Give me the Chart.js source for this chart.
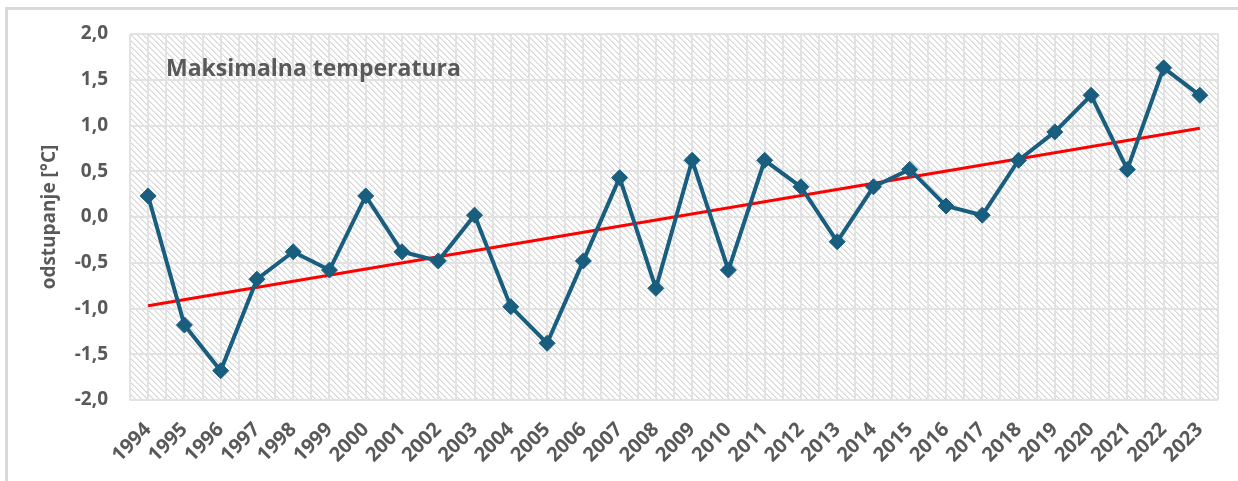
<!DOCTYPE html>
<html>
<head>
<meta charset="utf-8">
<script src="https://cdn.jsdelivr.net/npm/chart.js"></script>
<style>
    body { margin: 0; background: #fff; }
    #wrap { position: relative; width: 1238px; height: 481px; overflow: hidden; }
    #frame {
        position: absolute; left: 5px; top: 7px; width: 1300px; height: 500px;
        border-top: 3px solid #dadada; border-left: 3px solid #dadada;
        pointer-events: none;
    }
</style>
</head>
<body>
<div id="wrap">
    <canvas id="tempChart"></canvas>
    <div id="frame"></div>
</div>

<script>
    // values
    const years = ['1994', '1995', '1996', '1997', '1998', '1999', '2000', '2001', '2002', '2003',
        '2004', '2005', '2006', '2007', '2008', '2009', '2010', '2011', '2012', '2013',
        '2014', '2015', '2016', '2017', '2018', '2019', '2020', '2021', '2022', '2023'];
    const deviation = [0.23, -1.18, -1.68, -0.68, -0.38, -0.58, 0.23, -0.38, -0.48, 0.02,
        -0.98, -1.38, -0.48, 0.43, -0.78, 0.62, -0.58, 0.62, 0.33, -0.27,
        0.33, 0.52, 0.12, 0.02, 0.62, 0.93, 1.33, 0.52, 1.63, 1.33];
    // linear trend, only the two ends are drawn
    const trend = [-0.97, null, null, null, null, null, null, null, null, null,
        null, null, null, null, null, null, null, null, null, null,
        null, null, null, null, null, null, null, null, null, 0.97];
    const chartTitle = 'Maksimalna temperatura';
    const yTitle = 'odstupanje [°C]';

    const GREY_TEXT = '#595959';
    const GRID = '#e2e2e2';
    const LINE_BLUE = '#195e7e';
    const FONT = "'Open Sans', sans-serif";

    // diagonal hatch like the excel "downward diagonal" fill
    function hatchPattern(ctx) {
        const n = 6;
        const tile = document.createElement('canvas');
        tile.width = n;
        tile.height = n;
        const t = tile.getContext('2d');
        t.fillStyle = '#ffffff';
        t.fillRect(0, 0, n, n);
        for (let y = 0; y < n; y++) {
            for (let x = 0; x < n; x++) {
                const d = ((x - y) % n + n) % n;
                if (d == 0) {
                    t.fillStyle = '#d6d6d6';
                    t.fillRect(x, y, 1, 1);
                } else if (d == 1) {
                    t.fillStyle = '#eaeaea';
                    t.fillRect(x, y, 1, 1);
                }
            }
        }
        return ctx.createPattern(tile, 'repeat');
    }

    const plotBackground = {
        id: 'plotBackground',
        beforeDraw(chart) {
            const { ctx, chartArea: a } = chart;
            ctx.save();
            ctx.fillStyle = hatchPattern(ctx);
            ctx.translate(a.left, a.top);
            ctx.fillRect(0, 0, a.right - a.left, a.bottom - a.top);
            ctx.restore();
        }
    };

    const innerTitle = {
        id: 'innerTitle',
        afterDatasetsDraw(chart) {
            const { ctx, chartArea: a } = chart;
            ctx.save();
            ctx.font = "bold 23px " + FONT;
            ctx.fillStyle = GREY_TEXT;
            ctx.textBaseline = 'middle';
            ctx.fillText(chartTitle, a.left + 36, a.top + 35);
            ctx.restore();
        }
    };

    new Chart(document.getElementById('tempChart'), {
        type: 'line',
        data: {
            labels: years,
            datasets: [{
                label: 'odstupanje',
                data: deviation,
                borderColor: LINE_BLUE,
                backgroundColor: LINE_BLUE,
                borderWidth: 4,
                pointStyle: 'rectRot',
                pointRadius: 8,
                pointBorderWidth: 1,
                tension: 0,
                order: 1
            }, {
                label: 'trend',
                data: trend,
                spanGaps: true,
                borderColor: '#ff0000',
                borderWidth: 3,
                pointRadius: 0,
                order: 2
            }]
        },
        options: {
            responsive: true,
            maintainAspectRatio: false,
            animation: false,
            layout: { padding: { top: 34, right: 20, left: 0, bottom: 0 } },
            plugins: {
                legend: { display: false },
                tooltip: { enabled: false }
            },
            scales: {
                x: {
                    type: 'category',
                    offset: true,
                    grid: { display: false },
                    border: { display: false },
                    ticks: {
                        color: GREY_TEXT,
                        font: { family: FONT, size: 20, weight: 'bold' },
                        minRotation: 45,
                        maxRotation: 45,
                        autoSkip: false,
                        padding: 10
                    },
                    afterFit(scale) { scale.height = 81; }
                },
                xGrid: {
                    type: 'linear',
                    position: 'bottom',
                    min: -0.5,
                    max: 29.5,
                    ticks: { display: false, stepSize: 0.5 },
                    grid: { color: GRID, lineWidth: 2, drawTicks: false },
                    border: { display: false },
                    afterFit(scale) { scale.height = 0; }
                },
                y: {
                    min: -2,
                    max: 2,
                    ticks: {
                        stepSize: 0.5,
                        color: GREY_TEXT,
                        padding: 22,
                        font: { family: FONT, size: 19, weight: 'bold' },
                        callback: v => v.toFixed(1).replace('.', ',')
                    },
                    grid: { color: GRID, lineWidth: 2, drawTicks: false },
                    border: { display: false },
                    title: {
                        display: true,
                        text: yTitle,
                        color: GREY_TEXT,
                        font: { family: FONT, size: 19, weight: 'bold' },
                        padding: { top: 38, bottom: 0 }
                    },
                    afterFit(scale) { scale.width = 130; }
                }
            }
        },
        plugins: [plotBackground, innerTitle]
    });
</script>
</body>
</html>
